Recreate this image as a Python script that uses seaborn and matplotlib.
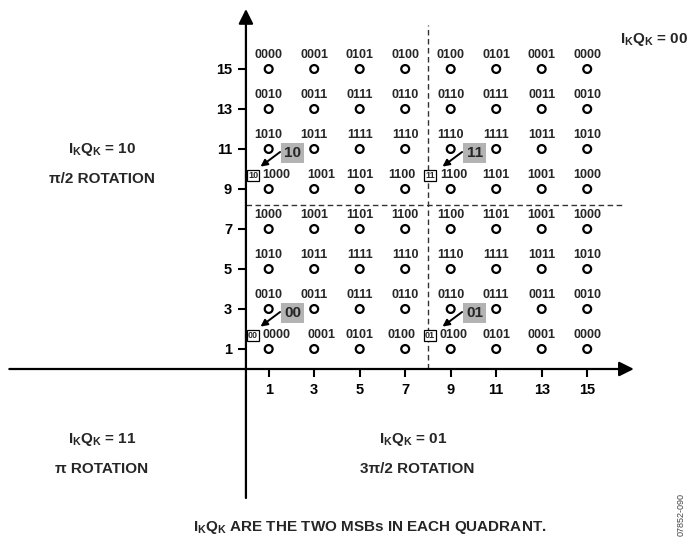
import matplotlib
matplotlib.use("Agg")
import matplotlib.pyplot as plt
import seaborn as sns
import pandas as pd

# Constellation grid (first quadrant of 256-QAM)
i_levels = [1, 3, 5, 7, 9, 11, 13, 15]
q_levels = [15, 13, 11, 9, 7, 5, 3, 1]

# 4 LSB codes, one row per Q level (top to bottom)
codes = [
    ["0000", "0001", "0101", "0100", "0100", "0101", "0001", "0000"],
    ["0010", "0011", "0111", "0110", "0110", "0111", "0011", "0010"],
    ["1010", "1011", "1111", "1110", "1110", "1111", "1011", "1010"],
    ["1000", "1001", "1101", "1100", "1100", "1101", "1001", "1000"],
    ["1000", "1001", "1101", "1100", "1100", "1101", "1001", "1000"],
    ["1010", "1011", "1111", "1110", "1110", "1111", "1011", "1010"],
    ["0010", "0011", "0111", "0110", "0110", "0111", "0011", "0010"],
    ["0000", "0001", "0101", "0100", "0100", "0101", "0001", "0000"],
]

# Two MSBs marking each sub-quadrant: (tag, I level, Q level)
msb_tags = [("10", 1, 9), ("11", 9, 9), ("00", 1, 1), ("01", 9, 1)]

quadrant_msb = ["00", "10", "11", "01"]
rotations = ["", "\u03c0/2 ROTATION", "\u03c0 ROTATION", "3\u03c0/2 ROTATION"]

sns.set_style("white")
plt.rcParams["font.family"] = ["Liberation Sans", "DejaVu Sans"]
plt.rcParams["font.weight"] = "bold"
plt.rcParams["mathtext.fontset"] = "custom"
plt.rcParams["mathtext.rm"] = "Liberation Sans:bold"
plt.rcParams["mathtext.it"] = "Liberation Sans:bold"
plt.rcParams["mathtext.bf"] = "Liberation Sans:bold"

W, H = 693, 546
fig = plt.figure(figsize=(W / 100, H / 100), dpi=100)
ax = fig.add_axes([0, 0, 1, 1])
ax.set_xlim(-10.81, 19.65)
ax.set_ylim(-8.85, 18.45)

df = pd.DataFrame(
    [(i, q, codes[r][c]) for r, q in enumerate(q_levels) for c, i in enumerate(i_levels)],
    columns=["I", "Q", "code"],
)

sns.scatterplot(data=df, x="I", y="Q", marker="o", s=32, facecolor="none",
                edgecolor="black", linewidth=1.6, legend=False, ax=ax, zorder=3)

# label shifts for rows carrying the MSB tags (layout only)
tag_rows = {q for _, _, q in msb_tags}
row_shift = {1: 0.35, 3: 0.3, 7: -0.15, 9: 0.12}
for _, row in df.iterrows():
    dx = row_shift.get(row["I"], 0.0) if row["Q"] in tag_rows else 0.0
    ax.text(row["I"] + dx, row["Q"] + 0.68, row["code"], ha="center", va="center",
            fontsize=9, fontweight="bold")

# axes with arrows
for s in ax.spines.values():
    s.set_visible(False)
ax.spines["left"].set_position(("data", 0))
ax.spines["bottom"].set_position(("data", 0))
ax.annotate("", xy=(17.05, 0), xytext=(-10.4, 0),
            arrowprops=dict(arrowstyle="-|>", color="black", lw=1.6, mutation_scale=22,
                            shrinkA=0, shrinkB=0))
ax.annotate("", xy=(0, 18.0), xytext=(0, -6.45),
            arrowprops=dict(arrowstyle="-|>", color="black", lw=1.6, mutation_scale=22,
                            shrinkA=0, shrinkB=0))
ax.set_xticks(i_levels)
ax.set_yticks(sorted(q_levels))
ax.tick_params(direction="out", length=6, width=1.5, labelsize=10.5, pad=4,
               bottom=True, left=True, colors="black")
ax.set_xlabel("")
ax.set_ylabel("")

# dashed quadrant dividers
ax.plot([8, 8], [0, 17.2], ls=(0, (4, 2.5)), color="#333333", lw=1.0)
ax.plot([0, 16.6], [8.2, 8.2], ls=(0, (4, 2.5)), color="#333333", lw=1.0)

# MSB tags: small boxed tag + gray callout with arrow
for tag, ci, rq in msb_tags:
    bx = ci - 0.69 if ci == 1 else ci - 0.91
    ax.text(bx, rq + 0.68, tag, ha="center", va="center", fontsize=6.5,
            bbox=dict(boxstyle="square,pad=0.15", fc="white", ec="black", lw=0.9), zorder=4)
    ax.text(ci + 1.05, rq + 1.82, tag, ha="center", va="center", fontsize=11,
            bbox=dict(boxstyle="square,pad=0.2", fc="#b3b3b3", ec="none"), zorder=4)
    ax.annotate("", xy=(ci - 0.36, rq + 1.12), xytext=(ci + 0.5, rq + 1.85),
                arrowprops=dict(arrowstyle="-|>", color="black", lw=1.4, mutation_scale=10,
                                shrinkA=0, shrinkB=0), zorder=5)

# quadrant descriptions (pixel positions)
def ftext(px, py, s, **kw):
    fig.text(px / W, 1 - py / H, s, ha="center", va="center", **kw)

msb_pos = [(654, 40), (102, 150), (102, 440), (413, 440)]
rot_pos = [None, (102, 179), (102, 469), (417, 469)]
for msb, rot, mp, rp in zip(quadrant_msb, rotations, msb_pos, rot_pos):
    ftext(mp[0], mp[1], r"$I_KQ_K$ = " + msb, fontsize=11)
    if rp is not None:
        ftext(rp[0], rp[1], rot, fontsize=11)

ftext(370, 528, r"$I_KQ_K$ ARE THE TWO MSBs IN EACH QUADRANT.", fontsize=11)
ftext(681, 515, "07852-090", fontsize=6.5, rotation=90, color="#444444",
      fontweight="normal")

fig.savefig("out.png", dpi=100)
